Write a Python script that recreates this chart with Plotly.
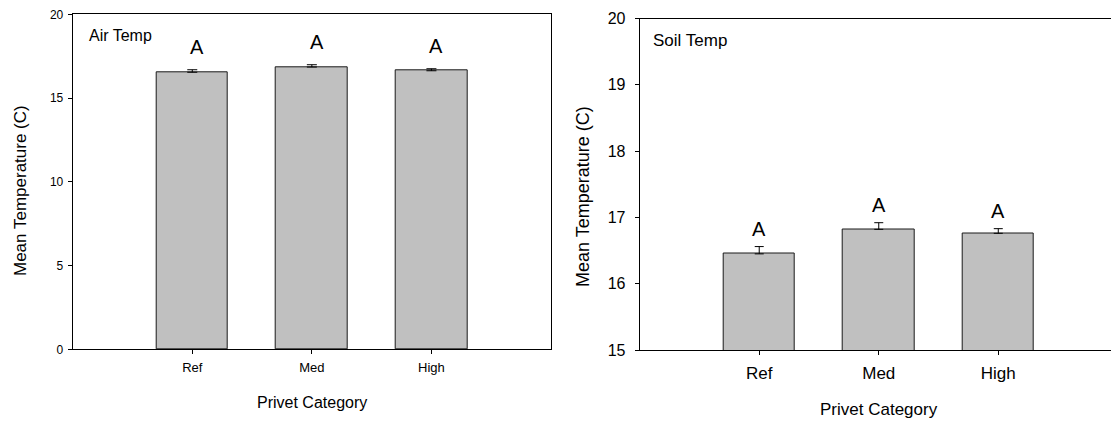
import plotly.graph_objects as go

categories = ["Ref", "Med", "High"]
air_mean = [16.54, 16.85, 16.63]
air_se = [0.15, 0.14, 0.12]
soil_mean = [16.45, 16.82, 16.76]
soil_se = [0.11, 0.10, 0.07]
air_letters = ["A", "A", "A"]
soil_letters = ["A", "A", "A"]
air_yticks = [0, 5, 10, 15, 20]
soil_yticks = [15, 16, 17, 18, 19, 20]

W, H = 1111, 423
FONT = "Arial, Liberation Sans, sans-serif"
BAR_FILL = "#c0c0c0"
BAR_LINE = "#1a1a1a"

def px_x(p):
    return p / W

def px_y(p):
    return (H - p) / H

idx = list(range(len(categories)))

fig = go.Figure()

fig.add_trace(go.Bar(
    x=idx, y=air_mean, width=0.6, xaxis="x", yaxis="y",
    marker=dict(color=BAR_FILL, line=dict(color=BAR_LINE, width=1)),
    error_y=dict(type="data", array=air_se, arrayminus=[0] * len(air_se),
                 symmetric=False, color="black", thickness=1, width=5),
    showlegend=False, hoverinfo="skip",
))
fig.add_trace(go.Bar(
    x=idx, y=soil_mean, width=0.6, xaxis="x2", yaxis="y2",
    marker=dict(color=BAR_FILL, line=dict(color=BAR_LINE, width=1)),
    error_y=dict(type="data", array=soil_se, arrayminus=[0] * len(soil_se),
                 symmetric=False, color="black", thickness=1, width=4.5),
    showlegend=False, hoverinfo="skip",
))

axis_common = dict(showline=True, linecolor="black", linewidth=1, ticks="outside",
                   tickcolor="black", ticklen=4, tickwidth=1, showgrid=False,
                   zeroline=False, fixedrange=True, automargin=False)

fig.update_layout(
    width=W, height=H,
    autosize=False,
    margin=dict(l=0, r=0, t=0, b=0, pad=0, autoexpand=False),
    paper_bgcolor="white", plot_bgcolor="white",
    font=dict(family=FONT, color="black"),
    bargap=0,
    xaxis=dict(domain=[px_x(72.7), px_x(551)], range=[-1, 3],
               tickvals=idx, ticktext=categories, mirror=True,
               tickfont=dict(size=13), ticklabelstandoff=2, anchor="y", **axis_common),
    yaxis=dict(domain=[px_y(349.3), px_y(14.3)], range=[0, 20],
               tickvals=air_yticks, mirror=True,
               tickfont=dict(size=12), ticklabelstandoff=2, anchor="x", **axis_common),
    xaxis2=dict(domain=[px_x(639.7), 1], range=[-1, 2.943],
                tickvals=idx, ticktext=categories, mirror=True,
                tickfont=dict(size=17), ticklabelstandoff=4, anchor="y2", **axis_common),
    yaxis2=dict(domain=[px_y(350), px_y(18.5)], range=[15, 20],
                tickvals=soil_yticks, mirror=False,
                tickfont=dict(size=16), ticklabelstandoff=6, anchor="x2", **axis_common),
)

annotations = []
for i, (m, s, t) in enumerate(zip(air_mean, air_se, air_letters)):
    annotations.append(dict(x=i, y=m + s, xref="x", yref="y", text=t,
                            showarrow=False, yanchor="bottom", yshift=10, xshift=5,
                            font=dict(size=20)))
for i, (m, s, t) in enumerate(zip(soil_mean, soil_se, soil_letters)):
    annotations.append(dict(x=i, y=m + s, xref="x2", yref="y2", text=t,
                            showarrow=False, yanchor="bottom", yshift=5,
                            font=dict(size=20)))

annotations += [
    dict(text="Air Temp", xref="paper", yref="paper", x=px_x(87), y=px_y(25),
         xanchor="left", yanchor="top", showarrow=False, font=dict(size=16)),
    dict(text="Soil Temp", xref="paper", yref="paper", x=px_x(650.5), y=px_y(28.5),
         xanchor="left", yanchor="top", showarrow=False, font=dict(size=17)),
    dict(text="Mean Temperature (C)", xref="paper", yref="paper", x=px_x(20), y=px_y(191),
         xanchor="center", yanchor="middle", textangle=-90, showarrow=False,
         font=dict(size=17)),
    dict(text="Mean Temperature (C)", xref="paper", yref="paper", x=px_x(583), y=px_y(197),
         xanchor="center", yanchor="middle", textangle=-90, showarrow=False,
         font=dict(size=18)),
    dict(text="Privet Category", xref="paper", yref="paper", x=px_x(311.7), y=px_y(402.5),
         xanchor="center", yanchor="middle", showarrow=False, font=dict(size=16)),
    dict(text="Privet Category", xref="paper", yref="paper", x=px_x(878.5), y=px_y(409.8),
         xanchor="center", yanchor="middle", showarrow=False, font=dict(size=17)),
]
fig.update_layout(annotations=annotations)

fig.write_html("out.html")
